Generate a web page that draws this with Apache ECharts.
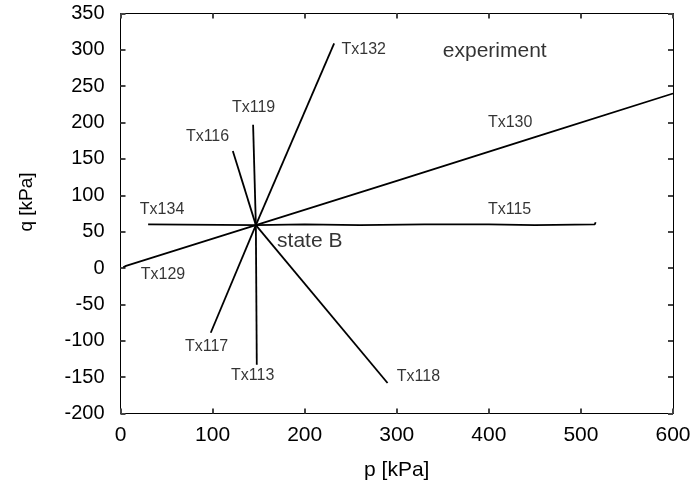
<!DOCTYPE html>
<html>
<head>
<meta charset="utf-8">
<script src="https://cdn.jsdelivr.net/npm/echarts@6/dist/echarts.min.js"></script>
<style>html,body{margin:0;padding:0;background:#fff}#c{width:694px;height:495px}</style>
</head>
<body>
<div id="c"></div>
<script>
// ---- data (p [kPa], q [kPa]) ----
const xTicks = [0, 100, 200, 300, 400, 500, 600];
const yTicks = [-200, -150, -100, -50, 0, 50, 100, 150, 200, 250, 300, 350];

const tx132 = [[147, 59], [232, 309]];
const tx119 = [[147, 59], [144, 197]];
const tx116 = [[147, 59], [122, 161]];
const tx134 = [[147, 59], [30, 60]];
const tx115 = [[147, 59], [200, 60], [260, 59], [330, 60], [400, 60], [450, 59], [515, 60], [516, 63]];
const tx130 = [[147, 59], [300, 120], [450, 180], [600, 240]];
const tx129 = [[147, 59], [6, 3], [3, 1]];
const tx117 = [[147, 59], [98, -89]];
const tx113 = [[147, 59], [148, -133]];
const tx118 = [[147, 59], [290, -158]];

const lineSeries = [tx132, tx119, tx116, tx134, tx115, tx130, tx129, tx117, tx113, tx118];
const lineNames = ['Tx132', 'Tx119', 'Tx116', 'Tx134', 'Tx115', 'Tx130', 'Tx129', 'Tx117', 'Tx113', 'Tx118'];

// annotation texts and their anchor (left edge, middle) in data coordinates
const labelTexts = ['Tx132', 'Tx119', 'Tx116', 'Tx134', 'Tx115', 'Tx130', 'Tx129', 'Tx117', 'Tx113', 'Tx118'];
const labelAnchors = [[240, 300], [121, 221], [71, 181], [21, 80], [399, 80], [399, 200], [22, -9], [70, -108], [120, -148], [300, -149]];
const bigTexts = ['experiment', 'state B'];
const bigAnchors = [[350, 298], [170, 37]];

const FONT = '"Liberation Sans", Arial, Helvetica, sans-serif';

const chart = echarts.init(document.getElementById('c'), null, {renderer: 'canvas'});

function makeAxis(extra) {
  return Object.assign({
    type: 'value',
    axisLine: {show: true, onZero: false, lineStyle: {color: '#000', width: 1}},
    axisTick: {show: true, inside: true, length: 5, lineStyle: {color: '#444', width: 2}},
    splitLine: {show: false}
  }, extra);
}

const series = lineSeries.map((d, i) => ({
  name: lineNames[i],
  type: 'line',
  data: d,
  showSymbol: false,
  symbol: 'none',
  lineStyle: {color: '#000', width: 1.8},
  animation: false,
  z: 3
}));

series.push({
  type: 'scatter',
  symbolSize: 0,
  data: labelAnchors.map((a, i) => ({value: a, name: labelTexts[i]})),
  label: {show: true, position: 'inside', align: 'left', verticalAlign: 'middle',
    formatter: p => p.name, color: '#000', fontSize: 16, fontFamily: FONT},
  animation: false, silent: true, z: 4
});
series.push({
  type: 'scatter',
  symbolSize: 0,
  data: bigAnchors.map((a, i) => ({value: a, name: bigTexts[i]})),
  label: {show: true, position: 'inside', align: 'left', verticalAlign: 'middle',
    formatter: p => p.name, color: '#000', fontSize: 21, fontFamily: FONT},
  animation: false, silent: true, z: 4
});

chart.setOption({
  backgroundColor: '#fff',
  animation: false,
  grid: {left: 120.5, right: 21, top: 13.5, bottom: 81.5, containLabel: false},
  xAxis: [
    makeAxis({
      position: 'bottom', min: xTicks[0], max: xTicks[xTicks.length - 1], interval: 100,
      axisLabel: {show: true, margin: 11, color: '#000', fontSize: 21, fontFamily: FONT},
      name: 'p [kPa]', nameLocation: 'middle', nameGap: 46,
      nameTextStyle: {color: '#000', fontSize: 21, fontFamily: FONT}
    }),
    makeAxis({
      position: 'top', min: xTicks[0], max: xTicks[xTicks.length - 1], interval: 100,
      axisLabel: {show: false}
    })
  ],
  yAxis: [
    makeAxis({
      position: 'left', min: yTicks[0], max: yTicks[yTicks.length - 1], interval: 50,
      axisLabel: {show: true, margin: 16, color: '#000', fontSize: 20, fontFamily: FONT}
    }),
    makeAxis({
      position: 'right', min: yTicks[0], max: yTicks[yTicks.length - 1], interval: 50,
      axisLabel: {show: false}
    })
  ],
  graphic: [{
    type: 'text',
    rotation: Math.PI / 2,
    style: {text: 'q [kPa]', fill: '#000', font: '19px ' + FONT, textAlign: 'center', textVerticalAlign: 'middle'},
    x: 27, y: 202
  }],
  series: series
});
</script>
</body>
</html>
